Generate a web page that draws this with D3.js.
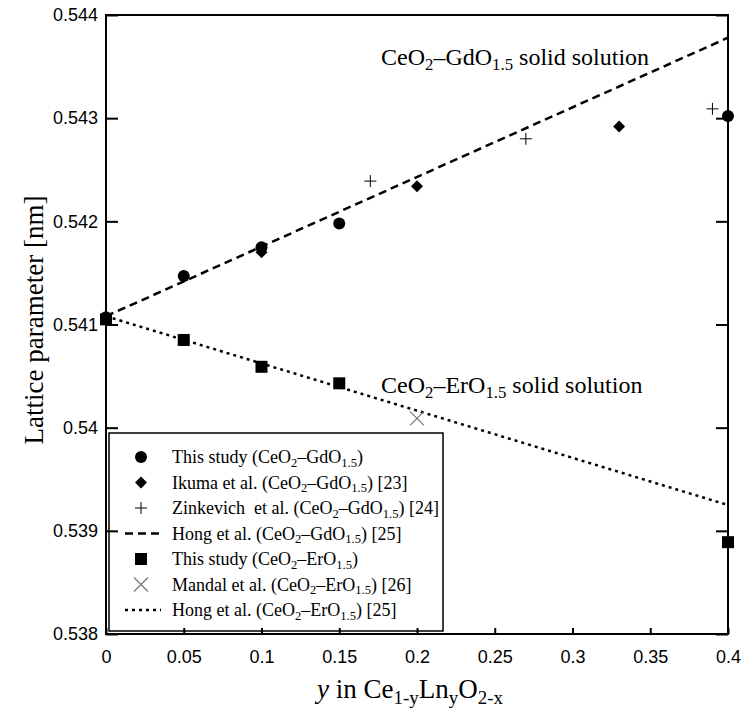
<!DOCTYPE html>
<html>
<head>
<meta charset="utf-8">
<script src="https://cdn.jsdelivr.net/npm/d3@7"></script>
<style>
  html, body { margin: 0; padding: 0; background: #fff; }
  svg { display: block; }
</style>
</head>
<body>
<svg id="chart" width="744" height="713"></svg>
<script>
// Lattice parameter of CeO2-LnO1.5 solid solutions vs. dopant fraction y

const xTicks = [0, 0.05, 0.1, 0.15, 0.2, 0.25, 0.3, 0.35, 0.4];
const xTickLabels = ["0", "0.05", "0.1", "0.15", "0.2", "0.25", "0.3", "0.35", "0.4"];
const yTicks = [0.538, 0.539, 0.540, 0.541, 0.542, 0.543, 0.544];
const yTickLabels = ["0.538", "0.539", "0.54", "0.541", "0.542", "0.543", "0.544"];

// This study, CeO2-GdO1.5 (circles)
const gdStudyY = [0, 0.05, 0.1, 0.15, 0.4];
const gdStudyA = [0.54107, 0.54147, 0.54175, 0.54198, 0.54302];
// Ikuma et al. (diamonds)
const ikumaY = [0.1, 0.2, 0.33];
const ikumaA = [0.54170, 0.54234, 0.54292];
// Zinkevich et al. (plus)
const zinkY = [0.17, 0.27, 0.39];
const zinkA = [0.54239, 0.54280, 0.54309];
// Hong et al. CeO2-GdO1.5 (dashed line)
const hongGdY = [0, 0.4];
const hongGdA = [0.54108, 0.54378];
// This study, CeO2-ErO1.5 (squares)
const erStudyY = [0, 0.05, 0.1, 0.15, 0.4];
const erStudyA = [0.54105, 0.54085, 0.54059, 0.54043, 0.53889];
// Mandal et al. (cross)
const mandalY = [0.2];
const mandalA = [0.54009];
// Hong et al. CeO2-ErO1.5 (dotted line)
const hongErY = [0, 0.4];
const hongErA = [0.54108, 0.53925];

const SERIF = "'Liberation Serif', 'Times New Roman', serif";
const SANS = "'Liberation Sans', Arial, sans-serif";

const svg = d3.select("#chart");
const plotL = 106, plotR = 728, plotT = 15, plotB = 634;

const x = d3.scaleLinear().domain([0, 0.4]).range([plotL, plotR]);
const y = d3.scaleLinear().domain([0.538, 0.544]).range([plotB, plotT]);

// writes a run of text pieces into a <text>, lowering the subscript pieces
function richText(sel, parts, size) {
  let shifted = false;
  parts.forEach(p => {
    const sub = typeof p !== "string";
    const t = sel.append("tspan").text(sub ? p.sub : p);
    if (sub && !shifted) { t.attr("dy", size * 0.22).attr("font-size", size * 0.7); shifted = true; }
    else if (sub) { t.attr("font-size", size * 0.7); }
    else if (shifted) { t.attr("dy", -size * 0.22); shifted = false; }
  });
}

const gMarks = svg.append("g");

const line = d3.line().x(d => x(d[0])).y(d => y(d[1]));

// Hong et al. fitted lines
gMarks.append("path")
  .datum(hongGdY.map((v, i) => [v, hongGdA[i]]))
  .attr("d", line).attr("fill", "none").attr("stroke", "#000")
  .attr("stroke-width", 2.5).attr("stroke-dasharray", "8,5");
gMarks.append("path")
  .datum(hongErY.map((v, i) => [v, hongErA[i]]))
  .attr("d", line).attr("fill", "none").attr("stroke", "#000")
  .attr("stroke-width", 2.5).attr("stroke-dasharray", "3,4");

// marker painters
const painters = {
  circle: (g, cx, cy) => g.append("circle").attr("cx", cx).attr("cy", cy).attr("r", 6).attr("fill", "#000"),
  diamond: (g, cx, cy) => g.append("path")
    .attr("d", `M${cx},${cy - 6}L${cx + 6},${cy}L${cx},${cy + 6}L${cx - 6},${cy}Z`).attr("fill", "#000"),
  plus: (g, cx, cy) => g.append("path")
    .attr("d", `M${cx - 6},${cy}H${cx + 6}M${cx},${cy - 6}V${cy + 6}`)
    .attr("stroke", "#000").attr("stroke-width", 1).attr("fill", "none"),
  square: (g, cx, cy) => g.append("rect").attr("x", cx - 6).attr("y", cy - 6)
    .attr("width", 12).attr("height", 12).attr("fill", "#000"),
  cross: (g, cx, cy) => g.append("path")
    .attr("d", `M${cx - 7},${cy - 7}L${cx + 7},${cy + 7}M${cx - 7},${cy + 7}L${cx + 7},${cy - 7}`)
    .attr("stroke", "#777").attr("stroke-width", 1.2).attr("fill", "none")
};

function scatter(xs, as, kind) {
  xs.forEach((v, i) => painters[kind](gMarks, x(v), y(as[i])));
}
scatter(gdStudyY, gdStudyA, "circle");
scatter(ikumaY, ikumaA, "diamond");
scatter(zinkY, zinkA, "plus");
scatter(erStudyY, erStudyA, "square");
scatter(mandalY, mandalA, "cross");

// annotations
const annGd = svg.append("text").attr("x", 381).attr("y", 65)
  .attr("font-family", SERIF).attr("font-size", 24).attr("fill", "#000");
richText(annGd, ["CeO", {sub: "2"}, "\u2013GdO", {sub: "1.5"}, " solid solution"], 24);
const annEr = svg.append("text").attr("x", 381).attr("y", 393)
  .attr("font-family", SERIF).attr("font-size", 24).attr("fill", "#000");
richText(annEr, ["CeO", {sub: "2"}, "\u2013ErO", {sub: "1.5"}, " solid solution"], 24);

// legend
const legend = svg.append("g");
legend.append("rect").attr("x", 109).attr("y", 433).attr("width", 334).attr("height", 198)
  .attr("fill", "#fff").attr("stroke", "#000").attr("stroke-width", 1.5);

const legendItems = [
  {kind: "circle", parts: ["This study (CeO", {sub: "2"}, "\u2013GdO", {sub: "1.5"}, ")"]},
  {kind: "diamond", parts: ["Ikuma et al. (CeO", {sub: "2"}, "\u2013GdO", {sub: "1.5"}, ") [23]"]},
  {kind: "plus", parts: ["Zinkevich  et al. (CeO", {sub: "2"}, "\u2013GdO", {sub: "1.5"}, ") [24]"]},
  {kind: "dash", parts: ["Hong et al. (CeO", {sub: "2"}, "\u2013GdO", {sub: "1.5"}, ") [25]"]},
  {kind: "square", parts: ["This study (CeO", {sub: "2"}, "\u2013ErO", {sub: "1.5"}, ")"]},
  {kind: "cross", parts: ["Mandal et al. (CeO", {sub: "2"}, "\u2013ErO", {sub: "1.5"}, ") [26]"]},
  {kind: "dot", parts: ["Hong et al. (CeO", {sub: "2"}, "\u2013ErO", {sub: "1.5"}, ") [25]"]}
];

legendItems.forEach((item, i) => {
  const cy = 457 + i * 25.5;
  if (item.kind === "dash" || item.kind === "dot") {
    legend.append("line").attr("x1", 125).attr("x2", 161).attr("y1", cy).attr("y2", cy)
      .attr("stroke", "#000").attr("stroke-width", 2.5)
      .attr("stroke-dasharray", item.kind === "dash" ? "8,5" : "3,4");
  } else {
    painters[item.kind](legend, 141, cy);
  }
  const t = legend.append("text").attr("x", 172).attr("y", cy + 6)
    .attr("font-family", SERIF).attr("font-size", 18).attr("fill", "#000")
    .attr("xml:space", "preserve").style("white-space", "pre");
  richText(t, item.parts, 18);
});

// axes
const axisStyle = g => {
  g.select(".domain").remove();
  g.selectAll(".tick line").attr("stroke", "#000").attr("stroke-width", 2);
  g.selectAll(".tick text").attr("font-family", SANS).attr("font-size", 18).attr("fill", "#000");
};

svg.append("g").attr("transform", `translate(${plotL},0)`)
  .call(d3.axisLeft(y).tickValues(yTicks).tickSize(-12).tickPadding(8)
    .tickFormat((d, i) => yTickLabels[i]))
  .call(axisStyle);
svg.append("g").attr("transform", `translate(${plotR},0)`)
  .call(d3.axisRight(y).tickValues(yTicks).tickSize(-12).tickFormat(""))
  .call(axisStyle);
svg.append("g").attr("transform", `translate(0,${plotB})`)
  .call(d3.axisBottom(x).tickValues(xTicks).tickSize(-6).tickPadding(16)
    .tickFormat((d, i) => xTickLabels[i]))
  .call(axisStyle);

// plot frame
svg.append("rect").attr("x", plotL).attr("y", plotT)
  .attr("width", plotR - plotL).attr("height", plotB - plotT)
  .attr("fill", "none").attr("stroke", "#000").attr("stroke-width", 2);

// axis titles
const xt = svg.append("text").attr("x", 410).attr("y", 698).attr("text-anchor", "middle")
  .attr("font-family", SERIF).attr("font-size", 27).attr("fill", "#000");
xt.append("tspan").attr("font-style", "italic").text("y");
richText(xt, [" in Ce", {sub: "1-y"}, "Ln", {sub: "y"}, "O", {sub: "2-x"}], 27);

svg.append("text")
  .attr("transform", "translate(43,320) rotate(-90)")
  .attr("text-anchor", "middle")
  .attr("font-family", SERIF).attr("font-size", 27).attr("fill", "#000")
  .text("Lattice parameter [nm]");
</script>
</body>
</html>
